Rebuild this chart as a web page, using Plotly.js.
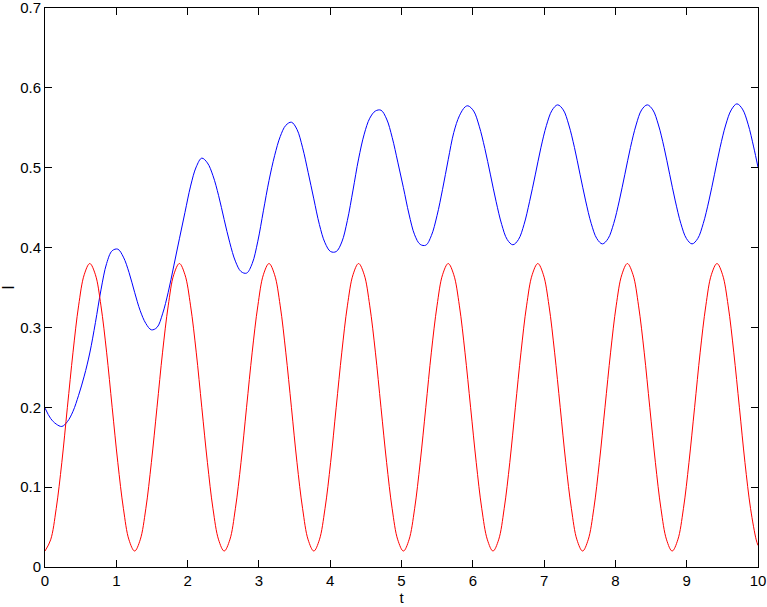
<!DOCTYPE html>
<html>
<head>
<meta charset="utf-8">
<script src="https://cdn.plot.ly/plotly-3.0.1.min.js"></script>
<style>html,body{margin:0;padding:0;background:#fff;}</style>
</head>
<body>
<div id="chart" style="width:767px;height:607px;"></div>
<script>
// Red series: t values and I values
var tRed = [0, 0.079, 0.157, 0.236, 0.314, 0.393, 0.471, 0.550, 0.628, 0.707, 0.785, 0.864, 0.942, 1.021, 1.100, 1.178,
  1.257, 1.335, 1.414, 1.492, 1.571, 1.649, 1.728, 1.806, 1.885, 1.963, 2.042, 2.121, 2.199, 2.278, 2.356, 2.435,
  2.513, 2.592, 2.670, 2.749, 2.827, 2.906, 2.985, 3.063, 3.142, 3.220, 3.299, 3.377, 3.456, 3.534, 3.613, 3.691,
  3.770, 3.848, 3.927, 4.006, 4.084, 4.163, 4.241, 4.320, 4.398, 4.477, 4.555, 4.634, 4.712, 4.791, 4.869, 4.948,
  5.027, 5.105, 5.184, 5.262, 5.341, 5.419, 5.498, 5.576, 5.655, 5.733, 5.812, 5.890, 5.969, 6.048, 6.126, 6.205,
  6.283, 6.362, 6.440, 6.519, 6.597, 6.676, 6.754, 6.833, 6.912, 6.990, 7.069, 7.147, 7.226, 7.304, 7.383, 7.461,
  7.540, 7.618, 7.697, 7.775, 7.854, 7.933, 8.011, 8.090, 8.168, 8.247, 8.325, 8.404, 8.482, 8.561, 8.639, 8.718,
  8.796, 8.875, 8.954, 9.032, 9.111, 9.189, 9.268, 9.346, 9.425, 9.503, 9.582, 9.660, 9.739, 9.817, 9.896, 9.975, 10.0];
var iRed = [
  0.02, 0.034, 0.073, 0.131, 0.2, 0.269, 0.327, 0.366, 0.38, 0.366, 0.327, 0.269, 0.2, 0.131, 0.073, 0.034,
  0.02, 0.034, 0.073, 0.131, 0.2, 0.269, 0.327, 0.366, 0.38, 0.366, 0.327, 0.269, 0.2, 0.131, 0.073, 0.034,
  0.02, 0.034, 0.073, 0.131, 0.2, 0.269, 0.327, 0.366, 0.38, 0.366, 0.327, 0.269, 0.2, 0.131, 0.073, 0.034,
  0.02, 0.034, 0.073, 0.131, 0.2, 0.269, 0.327, 0.366, 0.38, 0.366, 0.327, 0.269, 0.2, 0.131, 0.073, 0.034,
  0.02, 0.034, 0.073, 0.131, 0.2, 0.269, 0.327, 0.366, 0.38, 0.366, 0.327, 0.269, 0.2, 0.131, 0.073, 0.034,
  0.02, 0.034, 0.073, 0.131, 0.2, 0.269, 0.327, 0.366, 0.38, 0.366, 0.327, 0.269, 0.2, 0.131, 0.073, 0.034,
  0.02, 0.034, 0.073, 0.131, 0.2, 0.269, 0.327, 0.366, 0.38, 0.366, 0.327, 0.269, 0.2, 0.131, 0.073, 0.034,
  0.02, 0.034, 0.073, 0.131, 0.2, 0.269, 0.327, 0.366, 0.38, 0.366, 0.327, 0.269, 0.2, 0.131, 0.073, 0.034, 0.027];

// Blue series: t values and I values
var tBlue = [0, 0.079, 0.157, 0.236, 0.314, 0.393, 0.471, 0.550, 0.628, 0.707, 0.785, 0.864, 0.942, 1.021, 1.100, 1.178,
  1.257, 1.335, 1.414, 1.492, 1.571, 1.649, 1.728, 1.806, 1.885, 1.963, 2.042, 2.121, 2.199, 2.278, 2.356, 2.435,
  2.513, 2.592, 2.670, 2.749, 2.827, 2.906, 2.985, 3.063, 3.142, 3.220, 3.299, 3.377, 3.456, 3.534, 3.613, 3.691,
  3.770, 3.848, 3.927, 4.006, 4.084, 4.163, 4.241, 4.320, 4.398, 4.477, 4.555, 4.634, 4.712, 4.791, 4.869, 4.948,
  5.027, 5.105, 5.184, 5.262, 5.341, 5.419, 5.498, 5.576, 5.655, 5.733, 5.812, 5.890,
  5.933, 6.012, 6.090, 6.169, 6.248, 6.326, 6.405, 6.483, 6.562, 6.640, 6.719, 6.797, 6.876, 6.955, 7.033, 7.112,
  7.190, 7.269, 7.347, 7.426, 7.504, 7.583, 7.661, 7.740, 7.818, 7.897, 7.976, 8.054, 8.133, 8.211, 8.290, 8.368,
  8.447, 8.525, 8.604, 8.683, 8.761, 8.840, 8.918, 8.997, 9.075, 9.154, 9.232, 9.311, 9.390, 9.468, 9.547, 9.625,
  9.704, 9.782, 9.861, 9.939, 10.0];
var iBlue = [
  0.199, 0.186, 0.179, 0.176, 0.182, 0.195, 0.215, 0.239, 0.268, 0.306, 0.347, 0.380, 0.396, 0.398, 0.388, 0.369,
  0.344, 0.321, 0.305, 0.297, 0.300, 0.317, 0.344, 0.377, 0.411, 0.444, 0.477, 0.501, 0.512, 0.506, 0.490, 0.465,
  0.435, 0.406, 0.383, 0.370, 0.368, 0.380, 0.408, 0.446, 0.484, 0.515, 0.539, 0.553, 0.557, 0.548, 0.525, 0.494,
  0.461, 0.429, 0.406, 0.395, 0.395, 0.407, 0.434, 0.472, 0.511, 0.542, 0.562, 0.571, 0.572, 0.561, 0.538, 0.507,
  0.475, 0.442, 0.416, 0.404, 0.403, 0.415, 0.440, 0.473, 0.510, 0.544, 0.565, 0.576,
  0.5775, 0.571, 0.552, 0.524, 0.491, 0.458, 0.429, 0.410, 0.4035, 0.410, 0.429, 0.458, 0.491, 0.525, 0.553, 0.572,
  0.5787, 0.5724, 0.5535, 0.5252, 0.4918, 0.4584, 0.4301, 0.4112, 0.4046, 0.4112, 0.4301, 0.4584, 0.4918, 0.5252, 0.5535, 0.5724,
  0.5787, 0.5724, 0.5535, 0.5252, 0.4918, 0.4584, 0.4301, 0.4112, 0.4046, 0.4112, 0.4301, 0.4584, 0.4918, 0.5252, 0.5535, 0.5724,
  0.580, 0.5734, 0.5545, 0.526, 0.5006];

var xTicks = [0, 1, 2, 3, 4, 5, 6, 7, 8, 9, 10];
var yTicks = [0, 0.1, 0.2, 0.3, 0.4, 0.5, 0.6, 0.7];
var yTickText = ['0', '0.1', '0.2', '0.3', '0.4', '0.5', '0.6', '0.7'];

var traces = [
  {x: tBlue, y: iBlue, mode: 'lines', line: {color: '#0000ff', width: 1, shape: 'spline', smoothing: 1}, hoverinfo: 'none'},
  {x: tRed, y: iRed, mode: 'lines', line: {color: '#ff0000', width: 1, shape: 'spline', smoothing: 1}, hoverinfo: 'none'}
];

var font = {family: 'Liberation Sans, Arial, sans-serif', size: 15, color: '#000'};
var axisCommon = {
  showgrid: false, zeroline: false, showline: true, linecolor: '#000', linewidth: 1,
  mirror: 'ticks', ticks: 'inside', ticklen: 7, tickwidth: 1, tickcolor: '#000',
  tickfont: font, ticklabeloverflow: 'allow'
};

var layout = {
  width: 767, height: 607,
  margin: {l: 45, r: 9, t: 8, b: 40},
  paper_bgcolor: '#fff', plot_bgcolor: '#fff',
  showlegend: false,
  xaxis: Object.assign({}, axisCommon, {
    range: [0, 10.00001], tickvals: xTicks, ticktext: xTicks.map(String),
    title: {text: 't', font: font, standoff: 2}
  }),
  yaxis: Object.assign({}, axisCommon, {
    range: [0, 0.700001], tickvals: yTicks, ticktext: yTickText,
    title: {text: 'I', font: {family: font.family, size: 16, color: '#000'}, standoff: 10}
  })
};

Plotly.newPlot('chart', traces, layout, {displayModeBar: false, staticPlot: true});
</script>
</body>
</html>
